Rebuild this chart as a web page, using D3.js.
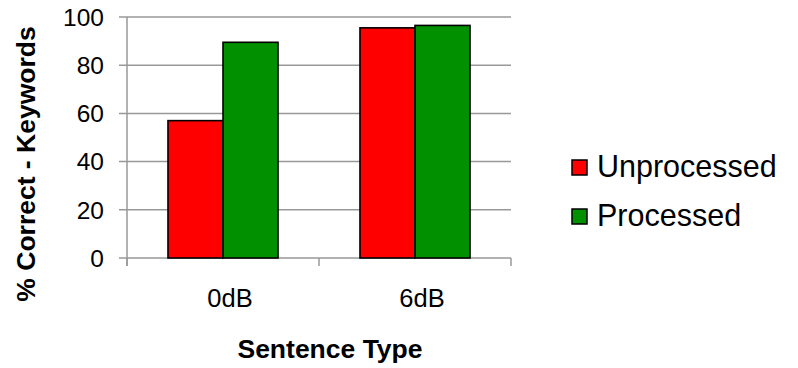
<!DOCTYPE html>
<html>
<head>
<meta charset="utf-8">
<script src="https://cdn.jsdelivr.net/npm/d3@7"></script>
<style>
  html, body { margin: 0; padding: 0; background: #fff; }
  svg { display: block; font-family: "Liberation Sans", Arial, sans-serif; }
</style>
</head>
<body>
<svg id="chart" width="798" height="368"></svg>
<script>
// Keyword recognition scores by sentence type
const categories = ["0dB", "6dB"];
const seriesNames = ["Unprocessed", "Processed"];
const unprocessed = [57, 95.5];
const processed = [89.5, 96.5];
const yTicks = [0, 20, 40, 60, 80, 100];
const colors = ["#ff0000", "#009000"];

const svg = d3.select("#chart");
const plotLeft = 127, plotRight = 511, plotTop = 17, plotBottom = 258;

const x = d3.scaleBand().domain(categories).range([plotLeft, plotRight]);
const inner = d3.scaleBand().domain(seriesNames)
  .range([0, x.bandwidth()]).paddingInner(0).paddingOuter(0.745);
const y = d3.scaleLinear().domain([0, 100]).range([plotBottom, plotTop]);

// horizontal gridlines
svg.append("g").selectAll("line").data(yTicks).join("line")
  .attr("x1", plotLeft - 8).attr("x2", plotRight)
  .attr("y1", d => y(d)).attr("y2", d => y(d))
  .attr("stroke", "#999").attr("stroke-width", 1.5);

// y axis line
svg.append("line").attr("x1", plotLeft).attr("x2", plotLeft)
  .attr("y1", plotTop).attr("y2", plotBottom + 8)
  .attr("stroke", "#999").attr("stroke-width", 1.5);

// category tick marks
const catEdges = [plotLeft].concat(categories.map(c => x(c) + x.bandwidth()));
svg.append("g").selectAll("line").data(catEdges).join("line")
  .attr("x1", d => d).attr("x2", d => d)
  .attr("y1", plotBottom).attr("y2", plotBottom + 8)
  .attr("stroke", "#999").attr("stroke-width", 1.5);

// y tick labels
svg.append("g").selectAll("text").data(yTicks).join("text")
  .attr("x", plotLeft - 23).attr("y", d => y(d))
  .attr("dy", "0.36em").attr("text-anchor", "end")
  .attr("font-size", 24.5).attr("fill", "#000")
  .text(d => d);

// bars
const rows = categories.map((c, i) => ({ cat: c, vals: [unprocessed[i], processed[i]] }));
const groups = svg.append("g").selectAll("g").data(rows).join("g")
  .attr("transform", d => `translate(${x(d.cat)},0)`);
groups.selectAll("rect").data(d => d.vals.map((v, j) => ({ v, j })))
  .join("rect")
  .attr("x", d => inner(seriesNames[d.j]))
  .attr("width", inner.bandwidth())
  .attr("y", d => y(d.v))
  .attr("height", d => y(0) - y(d.v))
  .attr("fill", d => colors[d.j])
  .attr("stroke", "#000").attr("stroke-width", 1.6);

// category labels
svg.append("g").selectAll("text").data(categories).join("text")
  .attr("x", d => x(d) + x.bandwidth() / 2 + 7).attr("y", 307)
  .attr("text-anchor", "middle").attr("font-size", 25.5)
  .text(d => d);

// axis titles
svg.append("text").attr("x", 330).attr("y", 358)
  .attr("text-anchor", "middle").attr("font-size", 26.5).attr("font-weight", "bold")
  .text("Sentence Type");
svg.append("text")
  .attr("transform", "translate(35,164) rotate(-90)")
  .attr("text-anchor", "middle").attr("font-size", 26.5).attr("font-weight", "bold")
  .text("% Correct - Keywords");

// legend
const legend = svg.append("g").selectAll("g").data(seriesNames).join("g")
  .attr("transform", (d, i) => `translate(572,${160 + i * 49})`);
legend.append("rect").attr("width", 15).attr("height", 15)
  .attr("fill", (d, i) => colors[i]).attr("stroke", "#000").attr("stroke-width", 1.5);
legend.append("text").attr("x", 25).attr("y", 17)
  .attr("font-size", 30.5).text(d => d);
</script>
</body>
</html>
